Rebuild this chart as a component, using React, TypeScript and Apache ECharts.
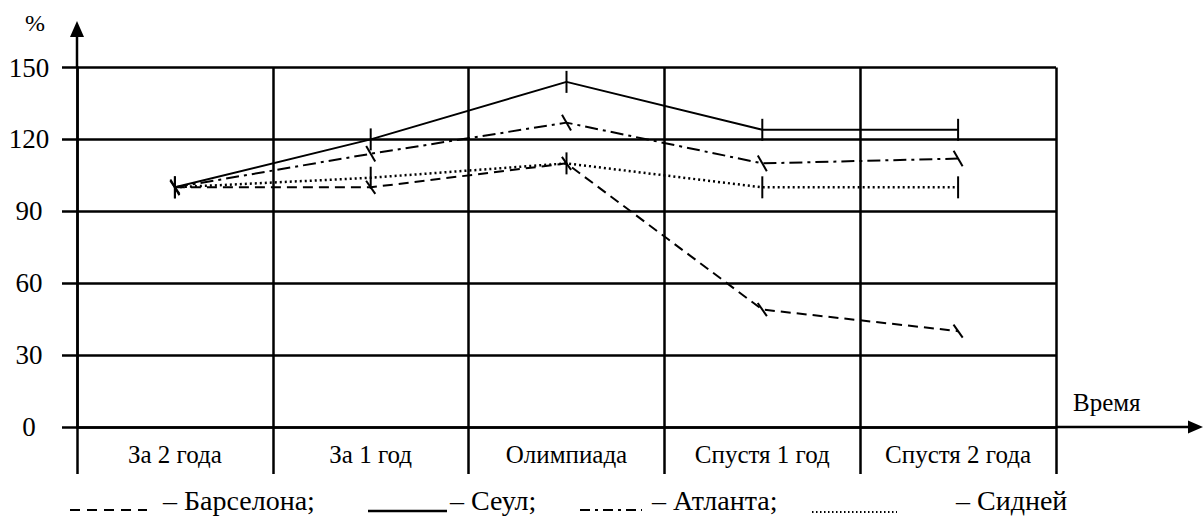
import React, { useEffect, useRef } from 'react';
import * as echarts from 'echarts';

const categories = ['За 2 года', 'За 1 год', 'Олимпиада', 'Спустя 1 год', 'Спустя 2 года'];
const barcelona = [100, 100, 110, 49, 40];
const seoul = [100, 120, 144, 124, 124];
const atlanta = [100, 114, 127, 110, 112];
const sydney = [100, 104, 110, 100, 100];
const yMin = 0;
const yMax = 150;
const yStep = 30;
const seriesNames = ['Барселона', 'Сеул', 'Атланта', 'Сидней'];
const legendLabels = ['– Барселона;', '– Сеул;', '– Атланта;', '– Сидней'];
const yAxisName = '%';
const xAxisName = 'Время';

const FONT = 'Liberation Serif';

export default function App() {
  const ref = useRef<HTMLDivElement>(null);

  useEffect(() => {
    document.body.style.margin = '0';
    if (!ref.current) return;
    const chart = echarts.init(ref.current, null, { renderer: 'svg' });

    const GL = 77;
    const GR = 1056;
    const GT = 67.5;
    const GB = 427;

    const mk = (name: string, data: number[], type: any, width: number, rotate: number, size: number[], z: number) => ({
      type: 'line',
      name,
      data,
      symbol: 'rect',
      symbolSize: size,
      symbolRotate: rotate,
      showSymbol: true,
      z,
      lineStyle: { color: '#000', width, type },
      itemStyle: { color: '#000' },
      emphasis: { disabled: true },
    });

    const txt = (text: string, x: number, y: number, size: number, align = 'left') => ({
      type: 'text',
      x,
      y,
      z: 10,
      style: {
        text,
        fontFamily: FONT,
        fontSize: size,
        fill: '#000',
        align,
        verticalAlign: 'middle',
      },
    });

    const seg = (x1: number, y1: number, x2: number, y2: number, w: number, dash?: number[]) => ({
      type: 'line',
      z: 10,
      shape: { x1, y1, x2, y2 },
      style: { stroke: '#000', lineWidth: w, lineDash: dash },
    });

    chart.setOption({
      animation: false,
      backgroundColor: '#fff',
      textStyle: { fontFamily: FONT, color: '#000' },
      grid: { left: GL, right: 1203 - GR, top: GT, bottom: 516 - GB, containLabel: false },
      xAxis: {
        type: 'category',
        data: categories,
        boundaryGap: true,
        axisLine: { show: true, lineStyle: { color: '#000', width: 2.5 } },
        axisTick: { show: true, inside: false, length: 47, lineStyle: { color: '#000', width: 2.5 } },
        axisLabel: { color: '#000', fontSize: 25, fontFamily: FONT, margin: 15, interval: 0 },
        splitLine: { show: true, lineStyle: { color: '#000', width: 2.5 } },
        name: xAxisName,
        nameLocation: 'end',
        nameGap: 17,
        nameTextStyle: { fontSize: 25, fontFamily: FONT, color: '#000', verticalAlign: 'bottom', padding: [0, 0, 12, 0] },
      },
      yAxis: {
        type: 'value',
        min: yMin,
        max: yMax,
        interval: yStep,
        axisLine: { show: true, lineStyle: { color: '#000', width: 2.5 } },
        axisTick: { show: true, inside: false, length: 15, lineStyle: { color: '#000', width: 2.5 } },
        axisLabel: { color: '#000', fontSize: 27, fontFamily: FONT, margin: 48, align: 'center', padding: [6, 0, 0, 0] },
        splitLine: { show: true, lineStyle: { color: '#000', width: 2.5 } },
        name: yAxisName,
        nameLocation: 'end',
        nameGap: 45,
        nameTextStyle: { fontSize: 24, fontFamily: FONT, color: '#000', align: 'right', verticalAlign: 'middle', padding: [0, 32, 0, 0] },
      },
      series: [
        mk(seriesNames[0], barcelona, [10, 6], 2, 35, [2, 16], 3),
        mk(seriesNames[1], seoul, 'solid', 2, 0, [2, 22], 4),
        mk(seriesNames[2], atlanta, [13, 5, 3, 5], 2, 30, [2, 18], 3),
        mk(seriesNames[3], sydney, [2, 3], 2.5, 0, [2, 22], 2),
      ],
      graphic: [
        seg(GL, GT, GL, 35, 2.5),
        { type: 'polygon', z: 10, shape: { points: [[GL, 21], [GL - 7, 37], [GL + 7, 37]] }, style: { fill: '#000' } },
        seg(GR, GB, 1192, GB, 2.5),
        { type: 'polygon', z: 10, shape: { points: [[1203, GB], [1188, GB - 6.5], [1188, GB + 6.5]] }, style: { fill: '#000' } },
        seg(70, 510, 147, 510, 2, [10, 7]),
        txt(legendLabels[0], 163, 500, 28),
        seg(368, 511, 447, 511, 2.5),
        txt(legendLabels[1], 450, 500, 28),
        seg(580, 510, 642, 510, 2, [10, 5, 3, 5]),
        txt(legendLabels[2], 652, 500, 28),
        seg(812, 512, 897, 512, 2, [1.5, 2.5]),
        txt(legendLabels[3], 956, 500, 28),
      ],
    });

    return () => chart.dispose();
  }, []);

  return <div ref={ref} style={{ width: 1203, height: 516 }} />;
}
